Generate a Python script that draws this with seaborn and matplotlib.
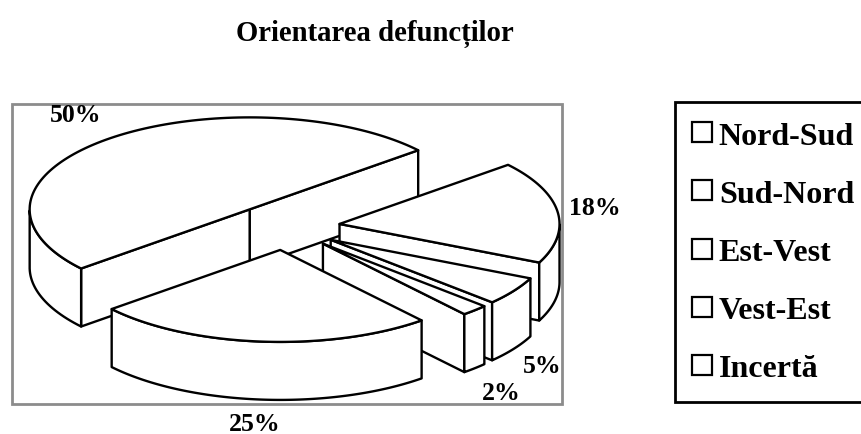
import numpy as np
import matplotlib
matplotlib.use("Agg")
import matplotlib.pyplot as plt
from matplotlib.patches import Polygon, Rectangle
from matplotlib.lines import Line2D
import seaborn as sns

categories = ["Nord-Sud", "Sud-Nord", "Est-Vest", "Vest-Est", "Incertă"]
# shares in drawing order around the pie, counter-clockwise from the first slice
slice_values = [50, 25, 2, 5, 18]
slice_labels = ["50%", "25%", "2%", "5%", "18%"]

sns.set_theme(style="white")
plt.rcParams["font.family"] = ["Liberation Serif", "DejaVu Serif"]
plt.rcParams["text.color"] = "black"

W, H = 861, 435
fig = plt.figure(figsize=(W / 100, H / 100), dpi=100, facecolor="white")
ax = fig.add_axes([0, 0, 1, 1])
ax.set_xlim(0, W)
ax.set_ylim(H, 0)
ax.axis("off")

# projection of the pie (pixels)
CX, CY, A, B, DEPTH, EXPLODE = 285, 228, 220, 92, 58, 0.25
START = 40.0
LW = 1.7


def pt(cx, cy, t, dy=0):
    r = np.radians(t)
    return cx + A * np.cos(r), cy - B * np.sin(r) + dy


def draw_slice(t1, t2, z):
    mid = (t1 + t2) / 2
    cx = CX + EXPLODE * A * np.cos(np.radians(mid))
    cy = CY - EXPLODE * B * np.sin(np.radians(mid))
    ts = np.linspace(t1, t2, 120)
    arc = np.array([pt(cx, cy, t) for t in ts])
    apex = np.array([cx, cy])
    kw = dict(fc="white", ec="black", lw=LW, joinstyle="round", zorder=z)
    drop = np.array([0, DEPTH])
    # radial side walls: visible when the edge runs rightwards in ccw order
    for p, q in ((apex, arc[0]), (arc[-1], apex)):
        if q[0] > p[0]:
            ax.add_patch(Polygon([p, q, q + drop, p + drop], **kw))
    # curved outer wall, only its front part
    front = np.sin(np.radians(ts)) < 0
    if front.any():
        f = arc[front]
        ax.add_patch(Polygon(np.vstack([f, (f + drop)[::-1]]), **kw))
    ax.add_patch(Polygon(np.vstack([[apex], arc]), **kw))


# plot frame
ax.add_patch(Rectangle((12, 105), 550, 300, fc="white", ec="#8c8c8c", lw=2, zorder=1))

edges = START + np.concatenate([[0], np.cumsum(slice_values)]) * 3.6
spans = list(zip(edges[:-1], edges[1:]))
# painter's order: back slices first, front slices last
order = sorted(range(len(spans)), key=lambda i: -np.sin(np.radians(sum(spans[i]) / 2)))
for z, i in enumerate(order):
    draw_slice(*spans[i], 2 + z)

lab_kw = dict(fontsize=18.5, fontweight="bold", color="black", ha="center", va="center", zorder=20)
label_xy = [(76, 116), (255, 425), (501, 394), (542, 367), (595, 209)]
for s, (x, y) in zip(slice_labels, label_xy):
    ax.text(x, y, s, **lab_kw)

ax.text(375, 34, "Orientarea defuncților", fontsize=20.7, fontweight="bold",
        color="black", ha="center", va="center")

# legend
handles = [Line2D([], [], ls="none", marker="s", ms=14.5, mfc="white", mec="black", mew=1.6)
           for _ in categories]
leg = fig.legend(handles, categories, loc="upper left",
                 bbox_to_anchor=(675 / W, 1 - 103 / H), bbox_transform=fig.transFigure,
                 frameon=True, fancybox=False, edgecolor="black", framealpha=1,
                 labelcolor="black",
                 prop={"family": "Liberation Serif", "weight": "bold", "size": 23},
                 labelspacing=0.9, handletextpad=0.3, handlelength=0.47,
                 borderpad=0.6, borderaxespad=0)
leg.get_frame().set_linewidth(2)

fig.savefig("out.png", dpi=100)
